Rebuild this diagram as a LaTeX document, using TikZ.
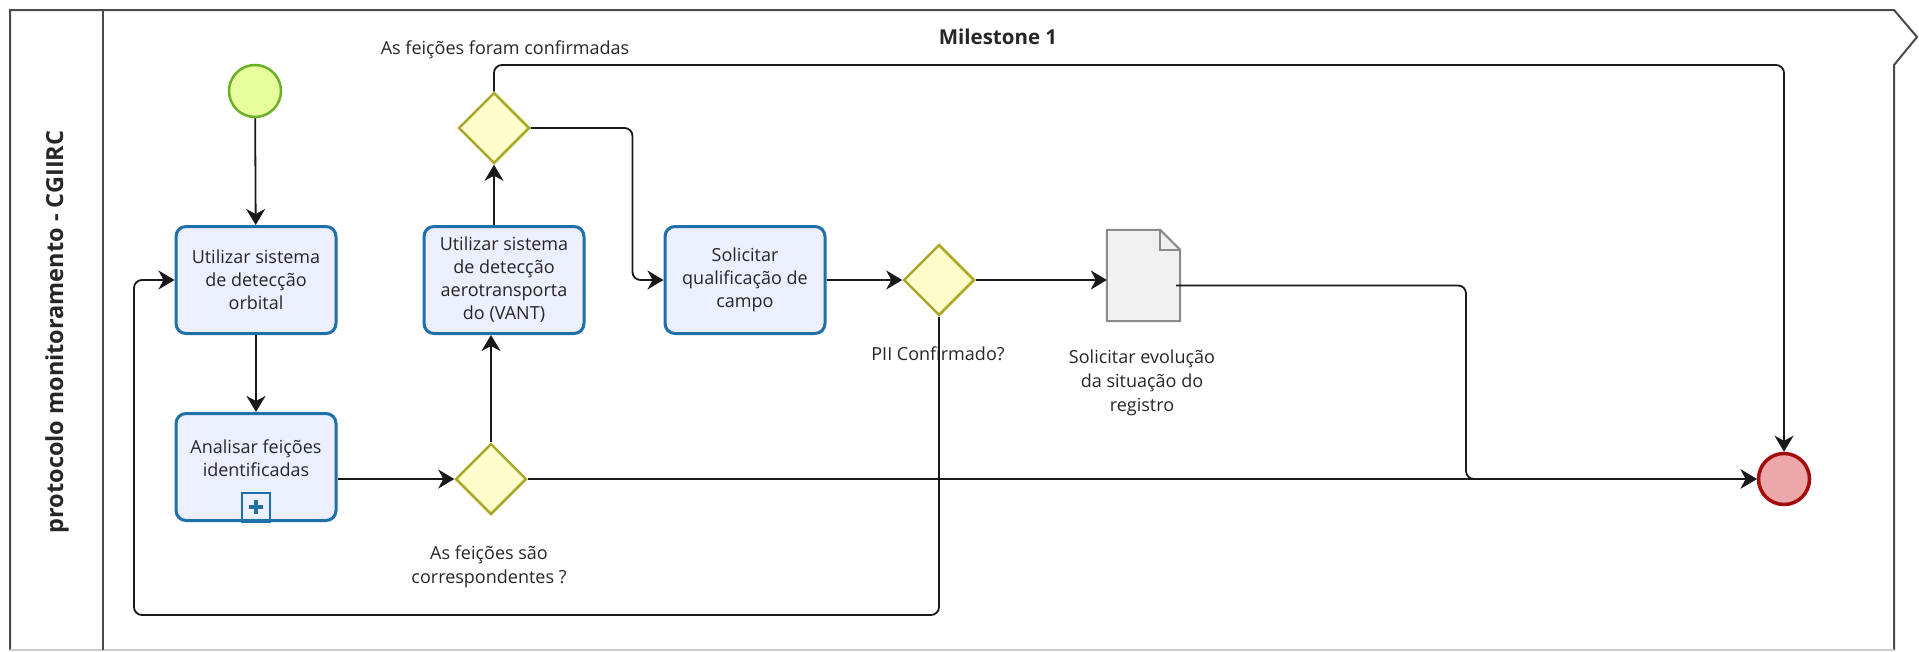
\documentclass[tikz,border=0pt]{standalone}
\usepackage{fontspec}
\setmainfont{Open Sans}
\usetikzlibrary{shapes.geometric,arrows.meta}
\definecolor{taskblue}{HTML}{1F6FA8}
\definecolor{taskfill}{HTML}{ECEFFD}
\definecolor{gwborder}{HTML}{A9A829}
\definecolor{gwfill}{HTML}{FDFDCC}
\definecolor{startfill}{HTML}{E7FC9A}
\definecolor{startborder}{HTML}{6BB128}
\definecolor{endfill}{HTML}{EDA7A9}
\definecolor{endborder}{HTML}{A30B0B}
\definecolor{docfill}{HTML}{F0F0F0}
\definecolor{docborder}{HTML}{8A8A8A}
\definecolor{borda}{HTML}{4A4A4A}
\definecolor{texto}{HTML}{262626}

\begin{document}
\begin{tikzpicture}[
        x = 1pt, y = -1pt,
        >= {Stealth[length=16pt,width=19pt,inset=5pt]},
        tarefa/.style = {draw=taskblue, fill=taskfill, line width=3pt, rounded corners=10pt,
            minimum width=160pt, minimum height=107pt, align=center, inner sep=0pt,
            text=texto, font=\fontsize{18}{23}\selectfont},
        porta/.style = {diamond, aspect=1, draw=gwborder, fill=gwfill, line width=2.5pt,
            minimum width=71pt, minimum height=71pt, inner sep=0pt},
        fluxo/.style = {->, line width=1.8pt, color=black!90, rounded corners=8pt},
        rotulo/.style = {align=center, text=texto, font=\fontsize{18}{24}\selectfont}
    ]
        \useasboundingbox (0,0) rectangle (1919,651);
        \draw [borda, line width=2pt] (10,650) -- (10,10) -- (1894,10) -- (1917,37) -- (1894,65) -- (1894,650);
        \draw [black!20, line width=2pt] (10,650) -- (1894,650);
        \draw [borda, line width=2pt] (103,10) -- (103,650);
        \node [rotate=90, text=texto, font=\bfseries\fontsize{23.5}{26}\selectfont] (pool) at (57,332) {protocolo monitoramento - CGIIRC};
        \node [text=texto, font=\bfseries\fontsize{20.5}{24}\selectfont] (milestone) at (998,37) {Milestone 1};

        \node [circle, draw=startborder, fill=startfill, line width=2.5pt, minimum size=52pt, inner sep=0pt] (inicio) at (255,91) {};
        \node [tarefa] (orbital) at (256,280) {Utilizar sistema\\de detecção\\orbital};
        \node [tarefa] (analisar) at (256,467) {Analisar feições\\identificadas\\[-6pt]};
        \draw [taskblue, line width=2.5pt] ([xshift=-14pt]analisar.south) rectangle ([xshift=14pt,yshift=29pt]analisar.south);
        \draw [taskblue, line width=4pt] ([yshift=8pt]analisar.south) -- ([yshift=22pt]analisar.south);
        \draw [taskblue, line width=4pt] ([xshift=-7pt,yshift=15pt]analisar.south) -- ([xshift=7pt,yshift=15pt]analisar.south);
        \node [porta] (corresp) at (491,479) {};
        \node [tarefa] (vant) at (504,280) {Utilizar sistema\\de detecção\\aerotransporta\\do (VANT)};
        \node [porta] (confirmadas) at (494,128) {};
        \node [tarefa] (qualificacao) at (745,280) {Solicitar\\qualificação de\\campo};
        \node [porta] (pii) at (939,280) {};
        \node [minimum width=73pt, minimum height=91pt, inner sep=0pt] (evolucao) at (1143.5,275.5) {};
        \draw [docborder, fill=docfill, line width=2pt] (evolucao.south west) -- (evolucao.north west)
            -- ([xshift=-20pt]evolucao.north east) -- ([yshift=-20pt]evolucao.north east) -- (evolucao.south east) -- cycle;
        \draw [docborder, line width=2pt] ([xshift=-20pt]evolucao.north east) |- ([yshift=-20pt]evolucao.north east);
        \node [circle, draw=endborder, fill=endfill, line width=3.5pt, minimum size=51pt, inner sep=0pt] (fim) at (1784,479) {};

        \node [rotulo] (lblconf) at (505,50) {As feições foram confirmadas};
        \node [rotulo] (lblcorresp) at (489,567) {As feições são\\correspondentes ?};
        \node [rotulo] (lblpii) at (938,354) {PII Confirmado?};
        \node [rotulo] (lblevolucao) at (1142,383) {Solicitar evolução\\da situação do\\registro};

        \coordinate (canto) at (1784,65);
        \coordinate (juncao) at (1466,479);
        \coordinate (retorno) at (134,615);
        \draw [fluxo] (inicio) -- (orbital);
        \draw [fluxo] (orbital) -- (analisar);
        \draw [fluxo] (corresp.west -| analisar.east) -- (corresp.west);
        \draw [fluxo] (corresp.north) -- (corresp.north |- vant.south);
        \draw [fluxo] (confirmadas.south |- vant.north) -- (confirmadas.south);
        \draw [fluxo] (confirmadas.north) |- (canto) -- (fim.north);
        \draw [fluxo] (confirmadas.east) -| ([xshift=-31pt]qualificacao.west) -- (qualificacao.west);
        \draw [fluxo] (qualificacao.east) -- (pii.west);
        \draw [fluxo] (pii.east) -- (pii.east -| evolucao.west);
        \draw [fluxo] ([xshift=-4pt,yshift=-10pt]evolucao.east) -| (juncao) -- (fim.west);
        \draw [fluxo] (corresp.east) -- (fim.west);
        \draw [fluxo] (pii.south) |- (retorno) |- (orbital.west);
\end{tikzpicture}
\end{document}
